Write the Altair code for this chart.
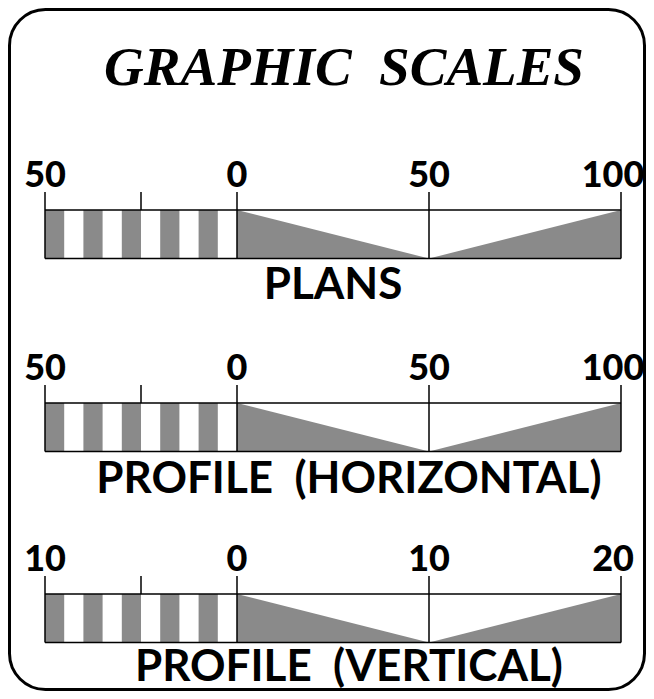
import altair as alt
import pandas as pd

# ---- data ----
title_text = "GRAPHIC\u00a0\u00a0SCALES"
scale_names = ["PLANS", "PROFILE\u00a0\u00a0(HORIZONTAL)", "PROFILE\u00a0\u00a0(VERTICAL)"]
units = [50, 50, 10]
tick_values = [[-50, 0, 50, 100], [-50, 0, 50, 100], [-10, 0, 10, 20]]
tick_labels = [["50", "0", "50", "100"], ["50", "0", "50", "100"], ["10", "0", "10", "20"]]
subdivisions = 10

# ---- layout ----
W, H = 638, 683
bar_top = [202, 395, 586]
bar_h = 48.5
tick_len = 18
num_gap = 23
label_gap = [40, 41, 38]
label_center = [0.5, 0.583, 0.583]
px_per_unit = 192
zero_px = 229
GRAY = "#8a8a8a"

xs = alt.Scale(domain=[-zero_px / px_per_unit, (W - zero_px) / px_per_unit], nice=False, zero=False)
ys = alt.Scale(domain=[0, H], reverse=True, nice=False, zero=False)

cells, vrules, hrules, tri, nums, labels = [], [], [], [], [], []
for i, (name, u) in enumerate(zip(scale_names, units)):
    top = bar_top[i]
    bot = top + bar_h
    step = u / subdivisions
    for k in range(0, subdivisions, 2):
        cells.append({"x": (-u + k * step) / u, "x2": (-u + (k + 1) * step) / u, "y": top, "y2": bot})
    for v in tick_values[i]:
        vrules.append({"x": v / u, "y": top - tick_len, "y2": bot})
    vrules.append({"x": -0.5, "y": top - tick_len, "y2": top})
    hrules.append({"x": tick_values[i][0] / u, "x2": tick_values[i][-1] / u, "y": top})
    hrules.append({"x": tick_values[i][0] / u, "x2": tick_values[i][-1] / u, "y": bot})
    a, b, c = tick_values[i][1] / u, tick_values[i][2] / u, tick_values[i][3] / u
    tri += [
        {"k": f"{i}a", "x": a, "y": bot, "y2": top},
        {"k": f"{i}a", "x": b, "y": bot, "y2": bot},
        {"k": f"{i}b", "x": b, "y": bot, "y2": bot},
        {"k": f"{i}b", "x": c, "y": bot, "y2": top},
    ]
    for j, (v, t) in enumerate(zip(tick_values[i], tick_labels[i])):
        nums.append({"x": v / u, "y": top - num_gap, "t": t, "last": j == len(tick_values[i]) - 1})
    labels.append({"x": label_center[i], "y": bot + label_gap[i], "t": name})

X = lambda f: alt.X(f, scale=xs, axis=None)
Y = lambda f: alt.Y(f, scale=ys, axis=None)

border = alt.Chart(pd.DataFrame({"a": [0]})).mark_rect(
    fill="white", stroke="black", strokeWidth=3, cornerRadius=36
).encode(x=alt.value(1.5), x2=alt.value(W - 1.5), y=alt.value(1.5), y2=alt.value(H - 1.5))

cell_layer = alt.Chart(pd.DataFrame(cells)).mark_rect(fill=GRAY).encode(
    x=X("x:Q"), x2="x2:Q", y=Y("y:Q"), y2="y2:Q")

tri_layer = alt.Chart(pd.DataFrame(tri)).mark_area(fill=GRAY).encode(
    x=X("x:Q"), y=alt.Y("y:Q", scale=ys, axis=None, stack=None), y2="y2:Q", detail="k:N")

vr_layer = alt.Chart(pd.DataFrame(vrules)).mark_rule(color="black", strokeWidth=1.5).encode(
    x=X("x:Q"), y=Y("y:Q"), y2="y2:Q")

hr_layer = alt.Chart(pd.DataFrame(hrules)).mark_rule(color="black", strokeWidth=1.5).encode(
    x=X("x:Q"), x2="x2:Q", y=Y("y:Q"))

num_df = pd.DataFrame(nums)
num_font = dict(font="Lato", fontWeight=900, fontSize=36, baseline="alphabetic", color="black")
num_layer = alt.Chart(num_df[~num_df["last"]]).mark_text(align="center", **num_font).encode(
    x=X("x:Q"), y=Y("y:Q"), text="t:N")
num_last = alt.Chart(num_df[num_df["last"]]).mark_text(align="center", dx=-8, **num_font).encode(
    x=X("x:Q"), y=Y("y:Q"), text="t:N")

label_layer = alt.Chart(pd.DataFrame(labels)).mark_text(
    font="Lato", fontWeight="bold", fontSize=44, baseline="alphabetic", align="center", color="black"
).encode(x=X("x:Q"), y=Y("y:Q"), text="t:N")

title_layer = alt.Chart(pd.DataFrame({"x": [(336 - zero_px) / px_per_unit], "y": [77], "t": [title_text]})).mark_text(
    font="Liberation Serif", fontWeight="bold", fontStyle="italic", fontSize=55,
    baseline="alphabetic", align="center", color="black"
).encode(x=X("x:Q"), y=Y("y:Q"), text="t:N")

chart = alt.layer(
    border, cell_layer, tri_layer, vr_layer, hr_layer, num_layer, num_last, label_layer, title_layer
).properties(width=W, height=H, padding=0, autosize=alt.AutoSizeParams(type="none")).configure_view(strokeWidth=0)

chart.save("out.html", embed_options={"renderer": "svg", "actions": False})
